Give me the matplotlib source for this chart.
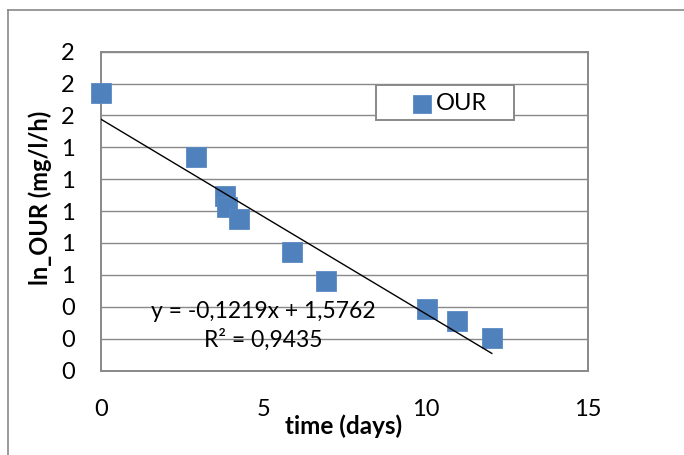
import numpy as np
import matplotlib
matplotlib.use("Agg")
import matplotlib.pyplot as plt
from matplotlib.lines import Line2D
from matplotlib.patches import Rectangle

plt.rcParams['font.family'] = ['Lato', 'DejaVu Sans']

# Measurements: time (days) and ln of oxygen uptake rate
time_days = [0.0, 2.93, 3.82, 3.89, 4.24, 5.90, 6.93, 10.04, 10.97, 12.05]
ln_our = [1.743, 1.341, 1.095, 1.024, 0.949, 0.745, 0.561, 0.386, 0.311, 0.206]

# Linear trendline coefficients and fit quality
slope = -0.1219
intercept = 1.5762
r_squared = 0.9435

x_ticks = [0, 5, 10, 15]
x_tick_labels = ["0", "5", "10", "15"]
y_ticks = [0.0, 0.2, 0.4, 0.6, 0.8, 1.0, 1.2, 1.4, 1.6, 1.8, 2.0]
y_tick_labels = ["0", "0", "0", "1", "1", "1", "1", "1", "2", "2", "2"]

series_name = "OUR"
x_label = "time (days)"
y_label = "ln_OUR (mg/l/h)"

blue = "#4F81BD"
grid_gray = "#898989"

W, H = 684, 455
fig = plt.figure(figsize=(W / 100, H / 100), dpi=100)
ax = fig.add_axes([101 / W, 1 - 370.5 / H, 486.5 / W, 318.8 / H])

ax.set_xlim(0, 15)
ax.set_ylim(0, 2)
ax.set_xticks(x_ticks)
ax.set_xticklabels(x_tick_labels)
ax.set_yticks(y_ticks)
ax.set_yticklabels(y_tick_labels)
ax.tick_params(axis='both', length=0, labelsize=17, colors='black')
ax.tick_params(axis='x', pad=20.5)
ax.tick_params(axis='y', pad=19)

ax.grid(axis='y', color=grid_gray, linewidth=1.0)
ax.set_axisbelow(True)
for s in ax.spines.values():
    s.set_color(grid_gray)
    s.set_linewidth(1.4)

# Data points
ax.plot(time_days, ln_our, linestyle='none', marker='s', markersize=14,
        markerfacecolor=blue, markeredgecolor='#5A8AC4', markeredgewidth=0.6,
        zorder=3, clip_on=False)

# Trendline over the observed time range
xt = np.array([min(time_days), max(time_days)])
ax.plot(xt, slope * xt + intercept, color='black', linewidth=1.0, zorder=4)

def fmt(v):
    return f"{v:.4f}".replace('.', ',')

sign = '+' if intercept >= 0 else '-'
ax.text(5.0, 0.373, f"y = {fmt(slope)}x {sign} {fmt(abs(intercept))}",
        ha='center', va='center', fontsize=16.5, zorder=5)
ax.text(5.0, 0.191, f"R² = {fmt(r_squared)}",
        ha='center', va='center', fontsize=16.5, zorder=5)

# Legend box
lx0, lx1 = (376 - 101) / 486.5, (514 - 101) / 486.5
ly0, ly1 = (370.5 - 120) / 318.8, (370.5 - 85) / 318.8
ax.add_patch(Rectangle((lx0, ly0), lx1 - lx0, ly1 - ly0, transform=ax.transAxes,
                       facecolor='white', edgecolor=grid_gray, linewidth=1.4,
                       zorder=6, clip_on=False))
ly = (370.5 - 104) / 318.8
ax.plot([(422 - 101) / 486.5], [ly], transform=ax.transAxes, marker='s',
        markersize=12.5, markerfacecolor=blue, markeredgecolor='#5A8AC4',
        markeredgewidth=0.6, zorder=7, clip_on=False)
ax.text((436 - 101) / 486.5, ly, series_name, transform=ax.transAxes,
        ha='left', va='center', fontsize=17, zorder=7)

ax.set_xlabel(x_label, fontsize=17.5, fontweight='bold')
ax.xaxis.set_label_coords((344 - 101) / 486.5, (370.5 - 426) / 318.8)
ax.xaxis.label.set_va('center')
ax.set_ylabel(y_label, fontsize=17, fontweight='bold')
ax.yaxis.set_label_coords((40 - 101) / 486.5, (370.5 - 198) / 318.8)
ax.yaxis.label.set_va('center')

# Chart border
bx, by = 7.5 / W, 1 - 10 / H
fig.add_artist(Line2D([bx, bx], [0, by], transform=fig.transFigure,
                      color=grid_gray, linewidth=1.2))
fig.add_artist(Line2D([bx, 1], [by, by], transform=fig.transFigure,
                      color=grid_gray, linewidth=1.2))

fig.savefig("out.png", dpi=100, facecolor='white')
